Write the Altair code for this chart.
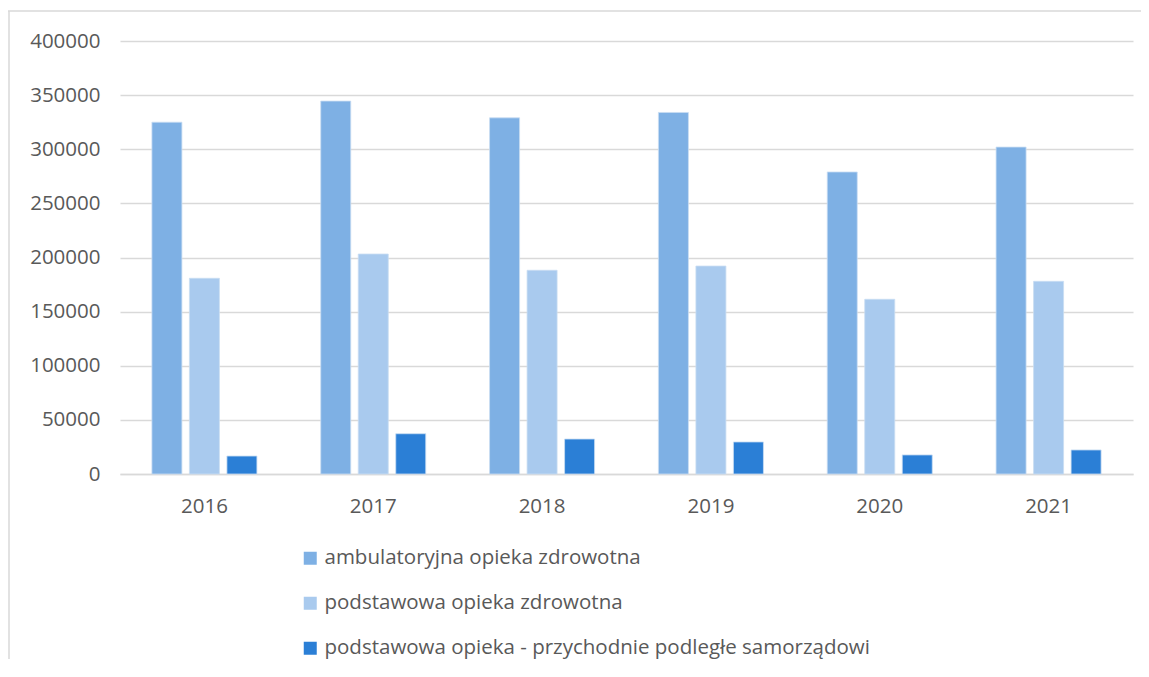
import altair as alt
import pandas as pd

years = ["2016", "2017", "2018", "2019", "2020", "2021"]
series = [
    "ambulatoryjna opieka zdrowotna",
    "podstawowa opieka zdrowotna",
    "podstawowa opieka - przychodnie podległe samorządowi",
]
ambulatoryjna = [325000, 344500, 329000, 334000, 279000, 302000]
podstawowa = [180800, 203200, 188200, 192100, 161400, 178000]
samorzad = [16600, 37200, 32300, 29600, 17600, 22200]
colors = ["#7EB0E4", "#A9CAEE", "#2B7FD6"]

rows = []
for name, vals in zip(series, [ambulatoryjna, podstawowa, samorzad]):
    for y, v in zip(years, vals):
        rows.append({"rok": y, "seria": name, "wartosc": v})
df = pd.DataFrame(rows)

FONT = "Open Sans"
TXT = "#595959"
GRID = "#D9D9D9"
FS = 20.5

bars = alt.Chart(df).mark_bar(stroke="#C9DDF3", strokeWidth=0.8).encode(
    x=alt.X("rok:N", sort=years, title=None,
            scale=alt.Scale(paddingInner=0.378, paddingOuter=0.189),
            axis=alt.Axis(labelAngle=0, domain=True, domainColor=GRID, domainWidth=1.5,
                          ticks=False, labelPadding=22, labelFontSize=FS,
                          labelColor=TXT, labelFont=FONT, grid=False)),
    xOffset=alt.XOffset("seria:N", sort=series,
                        scale=alt.Scale(paddingInner=0.2, paddingOuter=0)),
    y=alt.Y("wartosc:Q", title=None,
            scale=alt.Scale(domain=[0, 400000]),
            axis=alt.Axis(values=list(range(0, 400001, 50000)), domain=False, ticks=False,
                          labelPadding=20, labelFontSize=FS, labelColor=TXT,
                          labelFont=FONT, gridColor=GRID, gridWidth=1.5, format="d")),
    color=alt.Color("seria:N", sort=series,
                    scale=alt.Scale(domain=series, range=colors),
                    legend=alt.Legend(title=None, orient="none", legendX=180, legendY=507,
                                      direction="vertical", symbolType="square",
                                      symbolSize=169, symbolStrokeWidth=0,
                                      labelFontSize=FS, labelColor=TXT, labelFont=FONT,
                                      labelOffset=4, rowPadding=24, padding=0,
                                      labelLimit=800)),
)

frame_top = alt.Chart(pd.DataFrame({"k": [0]})).mark_rule(color="#D9D9D9", strokeWidth=1.5).encode(
    x=alt.value(-112), x2=alt.value(1040), y=alt.value(-30)
)
frame_left = alt.Chart(pd.DataFrame({"k": [0]})).mark_rule(color="#D9D9D9", strokeWidth=1.5).encode(
    x=alt.value(-111), y=alt.value(-30), y2=alt.value(700)
)

chart = alt.layer(bars, frame_top, frame_left).properties(
    width=1013, height=433,
    autosize=alt.AutoSizeParams(type="none"),
    padding={"left": 112, "top": 33, "right": 8, "bottom": 185},
).configure(background="white").configure_view(stroke=None)

chart.save("out.html", embed_options={"renderer": "svg", "actions": False})
